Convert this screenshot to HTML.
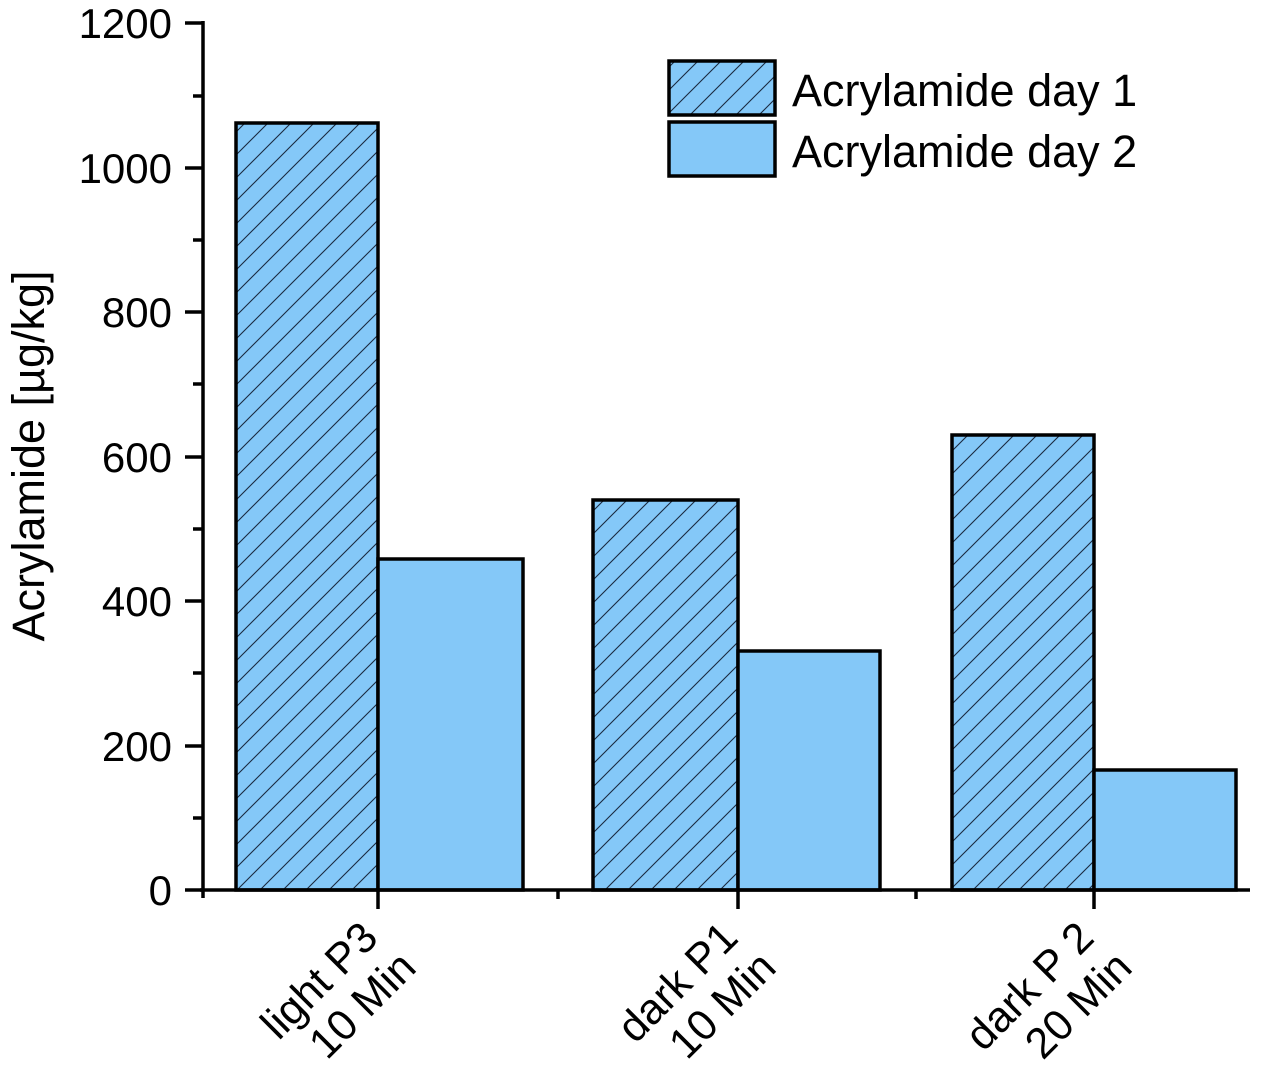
<!DOCTYPE html>
<html><head><meta charset="utf-8"><style>html,body{margin:0;padding:0;background:#fff}</style></head>
<body>
<svg width="1280" height="1062" viewBox="0 0 1280 1062" xmlns="http://www.w3.org/2000/svg" font-family="Liberation Sans, Arial, sans-serif">
<defs>
<pattern id="h" patternUnits="userSpaceOnUse" width="23" height="23">
<rect width="23" height="23" fill="#84c8f8"/>
<path d="M0,23 L23,0 M-5,5 L5,-5 M18,28 L28,18" stroke="#1a2a40" stroke-width="1.1"/>
</pattern>
</defs>
<g stroke="#000" stroke-width="3.5">
<rect x="236" y="123" width="142" height="767" fill="url(#h)"/>
<rect x="378" y="559" width="145" height="331" fill="#84c8f8"/>
<rect x="593" y="500" width="145" height="390" fill="url(#h)"/>
<rect x="738" y="651" width="142" height="239" fill="#84c8f8"/>
<rect x="952" y="435" width="142" height="455" fill="url(#h)"/>
<rect x="1094" y="770" width="142" height="120" fill="#84c8f8"/>
<rect x="669" y="61" width="106" height="54" fill="url(#h)"/>
<rect x="669" y="122" width="106" height="54" fill="#84c8f8"/>
</g>
<g stroke="#000" stroke-width="3.5" fill="none">
<line x1="203" y1="21" x2="203" y2="898"/>
<line x1="200" y1="890" x2="1250" y2="890"/>
<line x1="185" y1="23" x2="203" y2="23"/>
<line x1="185" y1="168" x2="203" y2="168"/>
<line x1="185" y1="312" x2="203" y2="312"/>
<line x1="185" y1="457" x2="203" y2="457"/>
<line x1="185" y1="601" x2="203" y2="601"/>
<line x1="185" y1="746" x2="203" y2="746"/>
<line x1="185" y1="890" x2="203" y2="890"/>
<line x1="193" y1="96" x2="203" y2="96"/>
<line x1="193" y1="240" x2="203" y2="240"/>
<line x1="193" y1="384" x2="203" y2="384"/>
<line x1="193" y1="529" x2="203" y2="529"/>
<line x1="193" y1="673" x2="203" y2="673"/>
<line x1="193" y1="818" x2="203" y2="818"/>
<line x1="378" y1="890" x2="378" y2="909"/>
<line x1="738" y1="890" x2="738" y2="909"/>
<line x1="1094" y1="890" x2="1094" y2="909"/>
<line x1="558" y1="890" x2="558" y2="899"/>
<line x1="916" y1="890" x2="916" y2="899"/>
</g>
<g font-size="42" text-anchor="end" fill="#000">
<text x="172" y="38">1200</text>
<text x="172" y="183">1000</text>
<text x="172" y="327">800</text>
<text x="172" y="472">600</text>
<text x="172" y="616">400</text>
<text x="172" y="761">200</text>
<text x="172" y="905">0</text>
</g>
<text transform="translate(44,456) rotate(-90)" font-size="45" text-anchor="middle">Acrylamide [µg/kg]</text>
<g font-size="45" fill="#000">
<text x="792" y="106">Acrylamide day 1</text>
<text x="792" y="167">Acrylamide day 2</text>
</g>
<g font-size="43" text-anchor="end">
<g transform="translate(380,940) rotate(-45)"><text x="0" y="0">light P3</text><text x="6" y="48">10 Min</text></g>
<g transform="translate(740,940) rotate(-45)"><text x="0" y="0">dark P1</text><text x="6" y="48">10 Min</text></g>
<g transform="translate(1096,940) rotate(-45)"><text x="0" y="0">dark P 2</text><text x="6" y="48">20 Min</text></g>
</g>
</svg>
</body></html>
